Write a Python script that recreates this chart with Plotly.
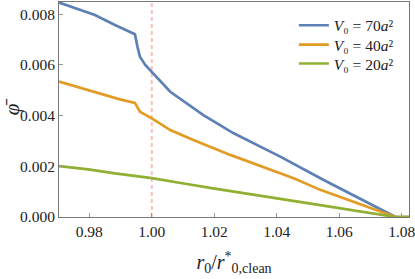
import plotly.graph_objects as go

# data
x_v70 = [0.9703, 0.9818, 0.9882, 0.9946, 0.9954, 0.9962, 0.9979, 1.0000, 1.0059, 1.0165, 1.0262, 1.0411, 1.0550, 1.0780, 1.0823]
phi_v70 = [0.00846, 0.00797, 0.00757, 0.00721, 0.00672, 0.00632, 0.00600, 0.00573, 0.00494, 0.00402, 0.00330, 0.00238, 0.00146, 0.0, 0.0]

x_v40 = [0.9703, 0.9898, 0.9946, 0.9962, 1.0000, 1.0059, 1.0133, 1.0251, 1.0454, 1.0539, 1.0780, 1.0823]
phi_v40 = [0.00534, 0.00464, 0.00450, 0.00415, 0.00389, 0.00343, 0.00304, 0.00245, 0.00153, 0.00107, 0.0, 0.0]

x_v20 = [0.9703, 0.9797, 0.9882, 1.0000, 1.0107, 1.0196, 1.0539, 1.0780, 1.0823]
phi_v20 = [0.00201, 0.00188, 0.00172, 0.00153, 0.00131, 0.00113, 0.00047, 0.0, 0.0]

labels = ["<i>V</i>₀ = 70<i>a</i>²",
          "<i>V</i>₀ = 40<i>a</i>²",
          "<i>V</i>₀ = 20<i>a</i>²"]
colors = ["#5E81B5", "#E19C24", "#8FB032"]

x_ref = 1.0
x_range = [0.9703, 1.0823]
y_range = [0.0, 0.00848]
x_ticks = [0.98, 1.00, 1.02, 1.04, 1.06, 1.08]
y_ticks = [0.000, 0.002, 0.004, 0.006, 0.008]

legend_ids = ["legend", "legend2", "legend3"]
legend_rows_y = [0.89, 0.80, 0.712]

fig = go.Figure()
for xs, ys, name, c, lg in zip([x_v70, x_v40, x_v20], [phi_v70, phi_v40, phi_v20], labels, colors, legend_ids):
    fig.add_trace(go.Scatter(x=xs, y=ys, mode="lines", name=name, legend=lg,
                             line=dict(color=c, width=2.7)))

fig.add_shape(type="line", xref="x", yref="paper", x0=x_ref, x1=x_ref, y0=0, y1=1,
              line=dict(color="rgba(245,130,130,0.5)", width=2, dash="4px,3px"), layer="below")

font_family = "Times New Roman"
axis_common = dict(showline=True, linecolor="#777", linewidth=1, mirror=True,
                   ticks="inside", ticklen=4, tickcolor="#999", showgrid=False,
                   zeroline=False, automargin=False,
                   tickfont=dict(family=font_family, size=15.5, color="#222"))

legend_style = dict(x=0.671, xanchor="left", yanchor="middle", bgcolor="rgba(0,0,0,0)",
                    font=dict(size=15.5, family=font_family), itemwidth=30)

fig.update_layout(
    width=415, height=279,
    margin=dict(l=59, r=6, t=2, b=62),
    paper_bgcolor="white", plot_bgcolor="white",
    font=dict(family=font_family, color="#222"),
    xaxis=dict(range=x_range, tickvals=x_ticks, tickformat=".2f",
               ticklabeloverflow="allow",
               title=dict(text="<i>r</i><sub>0</sub>/<i>r</i><sup>*</sup><sub>0,clean</sub>",
                          font=dict(size=20), standoff=16),
               **axis_common),
    yaxis=dict(range=y_range, tickvals=y_ticks, tickformat=".3f",
               title=dict(text="<i>φ\u0304</i>", font=dict(size=21), standoff=18),
               **axis_common),
    legend=dict(y=legend_rows_y[0], **legend_style),
    legend2=dict(y=legend_rows_y[1], **legend_style),
    legend3=dict(y=legend_rows_y[2], **legend_style),
    showlegend=True,
)

fig.write_html("out.html", config={"displayModeBar": False},
               post_script="document.body.style.margin='0px';")
